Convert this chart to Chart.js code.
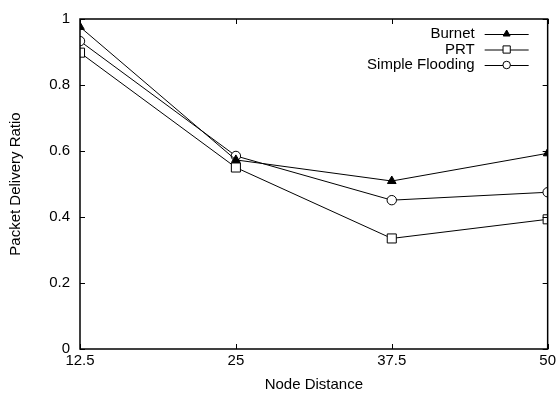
<!DOCTYPE html>
<html>
<head>
<meta charset="utf-8">
<script src="https://cdn.jsdelivr.net/npm/chart.js@4.4.1/dist/chart.umd.min.js"></script>
<style>
  html, body { margin: 0; padding: 0; background: #fff; }
  #wrap { width: 559px; height: 394px; }
</style>
</head>
<body>
<div id="wrap"><canvas id="chart" width="559" height="394"></canvas></div>
<script>
const distances = [12.5, 25, 37.5, 50];
const burnet = [0.976, 0.573, 0.509, 0.593];
const prt = [0.898, 0.550, 0.335, 0.393];
const flooding = [0.933, 0.585, 0.451, 0.475];
const xTicks = [12.5, 25, 37.5, 50];
const yTicks = [0, 0.2, 0.4, 0.6, 0.8, 1];

const FONT = 'Liberation Sans, Arial, Helvetica, sans-serif';

function toPoints(vals) {
    return distances.map((d, i) => ({ x: d, y: vals[i] }));
}

// gnuplot style frame, inward ticks and legend inside the top right corner
const gnuplotFrame = {
    id: 'gnuplotFrame',
    afterDatasetsDraw(chart) {
        const ctx = chart.ctx;
        const a = chart.chartArea;
        const xs = chart.scales.x;
        const ys = chart.scales.y;
        ctx.save();
        ctx.strokeStyle = '#000';
        ctx.lineWidth = 1;
        ctx.beginPath();
        xTicks.forEach(v => {
            const px = Math.round(xs.getPixelForValue(v)) + 0.5;
            ctx.moveTo(px, a.bottom); ctx.lineTo(px, a.bottom - 5);
            ctx.moveTo(px, a.top); ctx.lineTo(px, a.top + 5);
        });
        yTicks.forEach(v => {
            const py = Math.round(ys.getPixelForValue(v)) + 0.5;
            ctx.moveTo(a.left, py); ctx.lineTo(a.left + 5, py);
            ctx.moveTo(a.right, py); ctx.lineTo(a.right - 5, py);
        });
        ctx.stroke();
        ctx.lineWidth = 1.5;
        ctx.strokeRect(a.left, a.top, a.right - a.left, a.bottom - a.top);

        // legend
        ctx.font = '15px ' + FONT;
        ctx.textAlign = 'right';
        ctx.textBaseline = 'middle';
        chart.data.datasets.forEach((ds, i) => {
            const y = a.top + 15 + i * 15.5;
            const x0 = a.right - 63;
            const x1 = a.right - 19;
            ctx.fillStyle = '#000';
            ctx.fillText(ds.label, x0 - 10, y);
            ctx.lineWidth = 1;
            ctx.strokeStyle = '#000';
            ctx.beginPath();
            ctx.moveTo(x0, y + 0.5); ctx.lineTo(x1, y + 0.5);
            ctx.stroke();
            ctx.fillStyle = ds.pointBackgroundColor;
            Chart.helpers.drawPoint(ctx, {
                pointStyle: ds.pointStyle,
                radius: ds.pointRadius * 0.8,
                borderWidth: 1
            }, (x0 + x1) / 2, y);
        });
        ctx.restore();
    }
};

const baseDs = {
    borderColor: '#000',
    borderWidth: 1,
    pointBorderColor: '#000',
    pointBorderWidth: 1,
    tension: 0,
    fill: false
};

new Chart(document.getElementById('chart').getContext('2d'), {
    type: 'line',
    data: {
        datasets: [
            Object.assign({}, baseDs, {
                label: 'Burnet',
                data: toPoints(burnet),
                pointStyle: 'triangle',
                pointRadius: 5,
                pointBackgroundColor: '#000'
            }),
            Object.assign({}, baseDs, {
                label: 'PRT',
                data: toPoints(prt),
                pointStyle: 'rect',
                pointRadius: 6.4,
                pointBackgroundColor: '#fff'
            }),
            Object.assign({}, baseDs, {
                label: 'Simple Flooding',
                data: toPoints(flooding),
                pointStyle: 'circle',
                pointRadius: 4.7,
                pointBackgroundColor: '#fff'
            })
        ]
    },
    options: {
        responsive: false,
        animation: false,
        layout: { padding: { top: 16, right: 11, left: 0, bottom: 0 } },
        plugins: {
            legend: { display: false },
            tooltip: { enabled: false }
        },
        scales: {
            x: {
                type: 'linear',
                min: 12.5,
                max: 50,
                afterBuildTicks: s => { s.ticks = xTicks.map(v => ({ value: v })); },
                afterFit: s => { s.height = 45; },
                grid: { display: false, drawTicks: false },
                border: { display: false },
                ticks: {
                    color: '#000',
                    padding: 3,
                    maxRotation: 0,
                    font: { family: FONT, size: 15 },
                    callback: v => String(v)
                },
                title: {
                    display: true,
                    text: 'Node Distance',
                    color: '#000',
                    padding: { top: 2, bottom: 0 },
                    font: { family: FONT, size: 15 }
                }
            },
            y: {
                min: 0,
                max: 1,
                afterBuildTicks: s => { s.ticks = yTicks.map(v => ({ value: v })); },
                afterFit: s => { s.width = 80; },
                grid: { display: false, drawTicks: false },
                border: { display: false },
                ticks: {
                    color: '#000',
                    padding: 10,
                    font: { family: FONT, size: 15 },
                    callback: v => String(v)
                },
                title: {
                    display: true,
                    text: 'Packet Delivery Ratio',
                    color: '#000',
                    padding: { top: 7, bottom: 0 },
                    font: { family: FONT, size: 15 }
                }
            }
        }
    },
    plugins: [gnuplotFrame]
});
</script>
</body>
</html>
